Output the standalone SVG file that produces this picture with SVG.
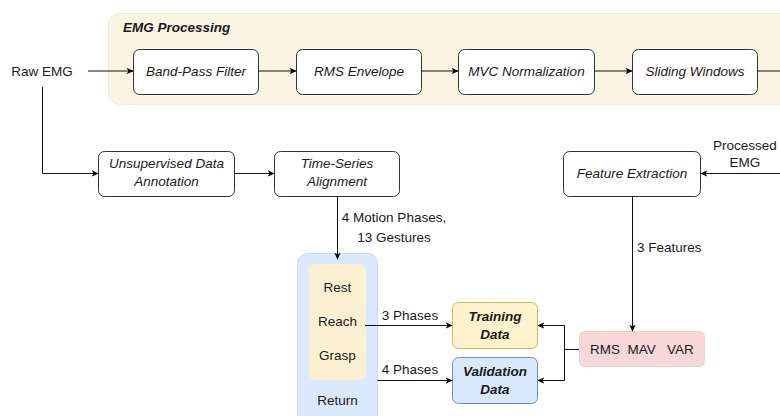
<svg xmlns="http://www.w3.org/2000/svg" width="780" height="416" viewBox="0 0 780 416">
<defs>
<marker id="arr" viewBox="0 0 10 10" refX="9" refY="5" markerWidth="7" markerHeight="7" orient="auto" markerUnits="userSpaceOnUse">
<path d="M0,0.5 L10,5 L0,9.5 L2.5,5 z" fill="#000"/>
</marker>
<style>
text{font-family:"Liberation Sans",Arial,sans-serif;font-size:13.5px;fill:#1a1a1a}
.it{font-style:italic}
.bi{font-style:italic;font-weight:bold}
.box{fill:#fff;stroke:#333;stroke-width:1}
.ln{fill:none;stroke:#111;stroke-width:1}
.m{text-anchor:middle}
</style>
</defs>
<rect width="780" height="416" fill="#fff"/>
<g id="emg-processing">
<rect x="108.5" y="13.5" width="690" height="91" rx="11" fill="#fdf5e3" stroke="#f1ead9"/>
<text x="123" y="32" class="bi">EMG Processing</text>
</g>
<g id="raw-emg"><text x="42" y="76" class="m">Raw EMG</text></g>
<g id="band-pass"><rect class="box" x="133.5" y="49.5" width="125" height="45" rx="6"/><text x="196" y="76" class="m it">Band-Pass Filter</text></g>
<g id="rms-envelope"><rect class="box" x="296.5" y="49.5" width="125" height="45" rx="6"/><text x="359" y="76" class="m it">RMS Envelope</text></g>
<g id="mvc-normalization"><rect class="box" x="458.5" y="49.5" width="136" height="45" rx="6"/><text x="526.5" y="76" class="m it">MVC Normalization</text></g>
<g id="sliding-windows"><rect class="box" x="632.5" y="49.5" width="125" height="45" rx="6"/><text x="695" y="76" class="m it">Sliding Windows</text></g>
<g id="unsupervised"><rect class="box" x="98.5" y="151.5" width="136" height="45" rx="6"/><text x="166.5" y="168" class="m it">Unsupervised Data</text><text x="166.5" y="186" class="m it">Annotation</text></g>
<g id="time-series"><rect class="box" x="274.5" y="151.5" width="125" height="45" rx="6"/><text x="337" y="168" class="m it">Time-Series</text><text x="337" y="186" class="m it">Alignment</text></g>
<g id="feature-extraction"><rect class="box" x="563.5" y="151.5" width="137" height="45" rx="6"/><text x="632" y="178" class="m it">Feature Extraction</text></g>
<g id="processed-emg"><text x="745" y="150" class="m">Processed</text><text x="745" y="167" class="m">EMG</text></g>
<g id="phases">
<rect x="297.5" y="253.5" width="80" height="175" rx="10" fill="#dce8fb" stroke="#cbdaf0"/>
<rect x="309" y="264" width="57" height="116" rx="7" fill="#fbf0d2"/>
<text x="337.5" y="292" class="m">Rest</text>
<text x="337.5" y="326" class="m">Reach</text>
<text x="337.5" y="360" class="m">Grasp</text>
<text x="337.5" y="405" class="m">Return</text>
</g>
<g id="training-data"><rect x="452.5" y="302.5" width="85" height="46" rx="6" fill="#fff2cc" stroke="#d6b656"/><text x="495" y="321" class="m bi">Training</text><text x="495" y="339" class="m bi">Data</text></g>
<g id="validation-data"><rect x="452.5" y="357.5" width="85" height="46" rx="6" fill="#dae8fc" stroke="#6c8ebf"/><text x="495" y="376" class="m bi">Validation</text><text x="495" y="394" class="m bi">Data</text></g>
<g id="features"><rect x="579.5" y="331.5" width="125" height="35" rx="5" fill="#f8d7d8" stroke="#f2cfd0"/><text x="642" y="354" class="m" xml:space="preserve">RMS  MAV   VAR</text></g>
<g id="connectors">
<path class="ln" d="M88,71 H133" marker-end="url(#arr)"/>
<path class="ln" d="M258.5,71 H296" marker-end="url(#arr)"/>
<path class="ln" d="M421.5,71 H458" marker-end="url(#arr)"/>
<path class="ln" d="M594.5,71 H632" marker-end="url(#arr)"/>
<path class="ln" d="M757.5,71 H780"/>
<path class="ln" d="M42.5,87 V173.5 H98" marker-end="url(#arr)"/>
<path class="ln" d="M234.5,173.5 H274" marker-end="url(#arr)"/>
<path class="ln" d="M337.5,196.5 V259" marker-end="url(#arr)"/>
<text x="394" y="222" class="m">4 Motion Phases,</text>
<text x="394" y="242" class="m">13 Gestures</text>
<path class="ln" d="M780,173.5 H701" marker-end="url(#arr)"/>
<path class="ln" d="M632.5,196.5 V331" marker-end="url(#arr)"/>
<text x="637" y="252">3 Features</text>
<path class="ln" d="M365,325.5 H452" marker-end="url(#arr)"/>
<text x="410" y="320" class="m">3 Phases</text>
<path class="ln" d="M377.5,380.5 H452" marker-end="url(#arr)"/>
<text x="410" y="374" class="m">4 Phases</text>
<path class="ln" d="M579,349.5 H564.5 V325.5 H538" marker-end="url(#arr)" stroke="#333"/>
<path class="ln" d="M564.5,349.5 V380.5 H538" marker-end="url(#arr)" stroke="#333"/>
</g>
</svg>
